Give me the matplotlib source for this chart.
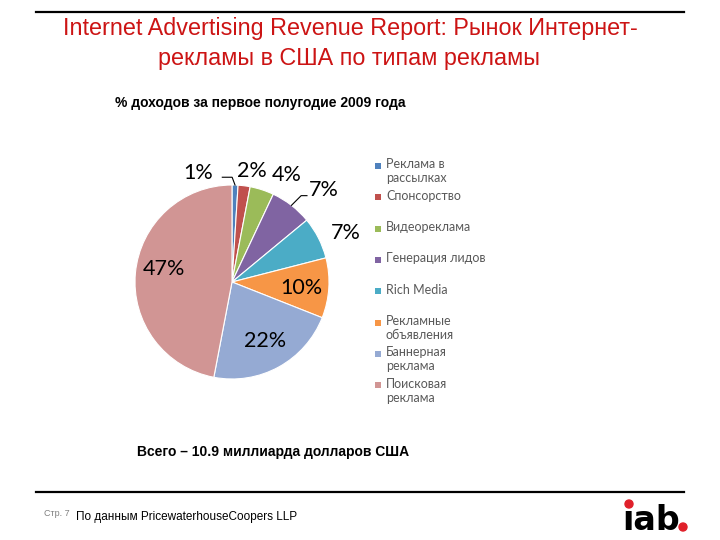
import matplotlib.pyplot as plt
import matplotlib.patches as mpatches
import numpy as np

plt.rcParams['font.family'] = ['Liberation Sans', 'DejaVu Sans']

# данные
categories = ['Реклама в\nрассылках', 'Спонсорство', 'Видеореклама', 'Генерация лидов',
              'Rich Media', 'Рекламные\nобъявления', 'Баннерная\nреклама', 'Поисковая\nреклама']
shares = [1, 2, 4, 7, 7, 10, 22, 47]
pct_labels = ['1%', '2%', '4%', '7%', '7%', '10%', '22%', '47%']
colors = ['#4F81BD', '#C0504D', '#9BBB59', '#8064A2', '#4BACC6', '#F79646', '#95AAD3', '#D19594']

W, H = 720, 540
fig = plt.figure(figsize=(7.2, 5.4), dpi=100)

def fx(x):
    return x / W

def fy(y):
    return 1 - y / H

# линии сверху и снизу
fig.add_artist(plt.Line2D([fx(36), fx(684)], [fy(12), fy(12)], color='black', lw=1.6))
fig.add_artist(plt.Line2D([fx(36), fx(684)], [fy(492), fy(492)], color='black', lw=1.6))

red = '#CC1414'
fig.text(fx(350), fy(29), 'Internet Advertising Revenue Report: Рынок Интернет-',
         ha='center', va='center', fontsize=16.8, color=red)
fig.text(fx(349), fy(59), 'рекламы в США по типам рекламы',
         ha='center', va='center', fontsize=16.8, color=red)

fig.text(fx(115), fy(103), '% доходов за первое полугодие 2009 года',
         ha='left', va='center', fontsize=10, fontweight='bold')
fig.text(fx(137), fy(452), 'Всего – 10.9 миллиарда долларов США',
         ha='left', va='center', fontsize=10, fontweight='bold')

# круговая диаграмма
cx, cy, r = 232, 282, 97
ax = fig.add_axes([fx(cx - r), fy(cy + r), 2 * r / W, 2 * r / H])
wedges, _ = ax.pie(shares, colors=colors, startangle=90, counterclock=False,
                   wedgeprops=dict(edgecolor='white', linewidth=0.8))
ax.set_xlim(-1, 1)
ax.set_ylim(-1, 1)
ax.set_aspect('equal')
ax.axis('off')

# подписи (радиус, угол)
lab_pos = [(1.18, 107), (1.16, 80), (1.24, 63), (1.34, 45), (1.28, 23),
           (0.72, -5), (0.70, -61), (0.72, 169)]
for txt, (rr, ang) in zip(pct_labels, lab_pos):
    a = np.radians(ang)
    ax.text(rr * np.cos(a), rr * np.sin(a), txt, ha='center', va='center',
            fontsize=15.5, family=['Lato', 'DejaVu Sans'], clip_on=False)

# выноски
w0 = wedges[0]
a0 = np.radians((w0.theta1 + w0.theta2) / 2)
ax.plot([np.cos(a0), np.cos(a0) - 0.03, -0.1],
        [np.sin(a0), 1.08, 1.08], color='black', lw=0.8, clip_on=False)
w3 = wedges[3]
a3 = np.radians((w3.theta1 + w3.theta2) / 2)
ax.plot([np.cos(a3), np.cos(a3) + 0.1, np.cos(a3) + 0.16],
        [np.sin(a3), np.sin(a3) + 0.1, np.sin(a3) + 0.1], color='black', lw=0.8, clip_on=False)

# легенда
for i, (cat, col) in enumerate(zip(categories, colors)):
    y = 166 + i * 31.3
    fig.add_artist(mpatches.Rectangle((fx(375), fy(y + 3)), 6 / W, 6 / H,
                                      facecolor=col, edgecolor='none'))
    fig.text(fx(386), fy(y - 7.5), cat, ha='left', va='top', fontsize=9, color='#595959',
             family=['Lato', 'DejaVu Sans'], linespacing=1.2)

# подвал
fig.text(fx(44), fy(514), 'Стр. 7', ha='left', va='center', fontsize=6.5, color='#808080')
fig.text(fx(76), fy(517), 'По данным PricewaterhouseCoopers LLP', ha='left', va='center',
         fontsize=8.5)

# логотип iab
fig.text(fx(622), fy(530), 'ıab', ha='left', va='baseline', fontsize=24,
         fontweight='heavy', family=['DejaVu Sans'])
fig.add_artist(mpatches.Ellipse((fx(629), fy(504)), 8 / W, 8 / H, color='#E0202A'))
fig.add_artist(mpatches.Ellipse((fx(683), fy(527)), 8 / W, 8 / H, color='#E0202A'))

fig.savefig('out.png', dpi=100)
